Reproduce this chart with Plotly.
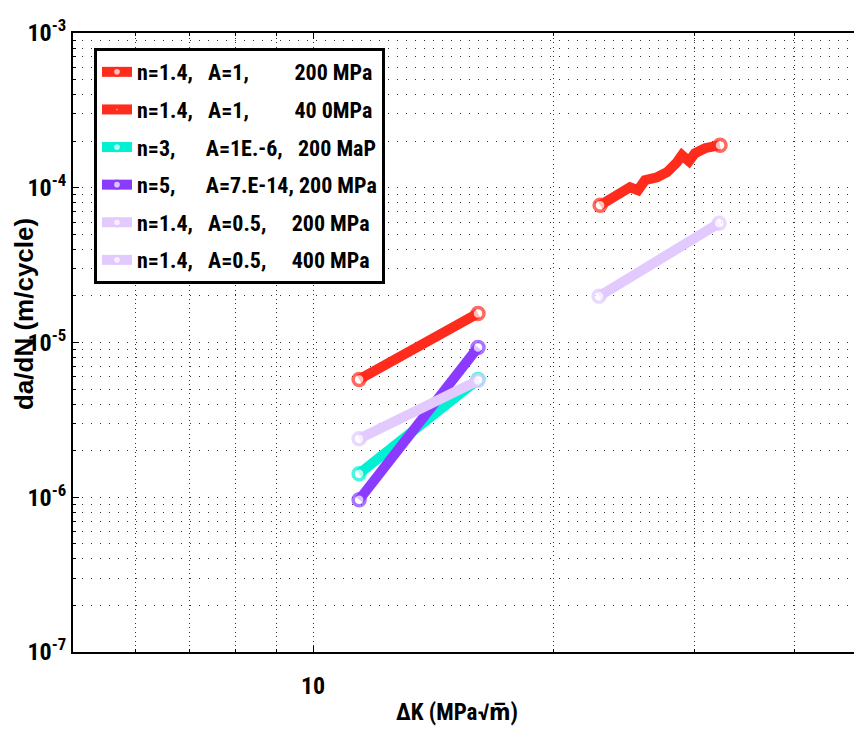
import plotly.graph_objects as go

# ---- data (ΔK in MPa√m, da/dN in m/cycle) ----
dk_200 = [11.42, 13.53, 16.08]
red_200 = [5.77e-6, 9.40e-6, 1.54e-5]
cyan_200 = [1.42e-6, 2.84e-6, 5.77e-6]
purple_200 = [9.64e-7, 2.94e-6, 9.29e-6]
lav_200 = [2.39e-6, 3.67e-6, 5.68e-6]

dk_red_400 = [22.85, 23.51, 24.41, 24.90, 25.48, 26.00, 26.92, 27.70,
              28.51, 28.92, 29.51, 30.02, 30.90, 32.27]
red_400 = [7.71e-5, 8.55e-5, 9.64e-5, 1.007e-4, 9.64e-5, 1.118e-4, 1.169e-4,
           1.260e-4, 1.462e-4, 1.623e-4, 1.484e-4, 1.672e-4, 1.802e-4, 1.884e-4]
dk_lav_400 = [22.78, 27.15, 32.18]
lav_400 = [1.99e-5, 3.50e-5, 5.89e-5]

S = "\u00a0"
names = [
    "n=1.4," + S * 3 + "A=1," + S * 9 + "200 MPa",
    "n=1.4," + S * 3 + "A=1," + S * 9 + "40 0MPa",
    "n=3," + S * 6 + "A=1E.-6," + S * 3 + "200 MaP",
    "n=5," + S * 6 + "A=7.E-14, 200 MPa",
    "n=1.4," + S * 3 + "A=0.5," + S * 5 + "200 MPa",
    "n=1.4," + S * 3 + "A=0.5," + S * 5 + "400 MPa",
]
colors = ["#ff2b1c", "#ff2b1c", "#00f0d4", "#8a3bff", "#e2caff", "#e2caff"]
xs = [dk_200, dk_red_400, dk_200, dk_200, dk_200, dk_lav_400]
ys = [red_200, red_400, cyan_200, purple_200, lav_200, lav_400]

NARROW = ("Liberation Sans Narrow, Roboto Condensed, Open Sans Condensed, "
          "DejaVu Sans Condensed, Liberation Sans, Arial, sans-serif")

fig = go.Figure()
for i, (x, y, nm, c) in enumerate(zip(xs, ys, names, colors)):
    n = len(x)
    sizes = [12] + [0] * (n - 2) + [12]
    lw = [3.5] + [0] * (n - 2) + [3.5]
    fig.add_trace(go.Scatter(
        x=x, y=y, name=nm, mode="lines+markers",
        legendgroup=f"g{i}",
        line=dict(color=c, width=10),
        marker=dict(symbol="circle", size=sizes, color="white",
                    line=dict(color=c, width=lw)),
    ))

y_major = [1e-7, 1e-6, 1e-5, 1e-4, 1e-3]
y_text = ["10<sup>-7</sup>", "10<sup>-6</sup>", "10<sup>-5</sup>",
          "10<sup>-4</sup>", "10<sup>-3</sup>"]
y_minor = [m * 10.0 ** e for e in range(-7, -3) for m in range(2, 10)]
x_major = [10]
x_text = ["10"]
x_minor = [6, 7, 8, 9, 20, 30, 40]

fig.update_layout(
    width=854, height=721,
    margin=dict(l=65, r=0, t=25, b=77),
    paper_bgcolor="white", plot_bgcolor="white",
    showlegend=True,
    legend=dict(
        x=0.0266, y=0.9757, xanchor="left", yanchor="top",
        bgcolor="white", bordercolor="black", borderwidth=3,
        font=dict(family=NARROW, size=22, color="black", weight="bold"),
        tracegroupgap=6, itemwidth=30,
    ),
    annotations=[
        dict(text="<b>da/dN (m/cycle)</b>", xref="paper", yref="paper",
             x=-0.0621, y=0.546, xanchor="center", yanchor="middle",
             textangle=-90, showarrow=False,
             font=dict(family="Liberation Sans, Arial, sans-serif", size=26, color="black")),
        dict(text="<b>ΔK (MPa√m\u0305)</b>", xref="paper", yref="paper",
             x=0.4867, y=-0.0985, xanchor="center", yanchor="middle",
             showarrow=False,
             font=dict(family=NARROW, size=23, color="black")),
    ],
)

fig.update_xaxes(
    type="log", range=[0.7, 1.68625], automargin=False,
    tickmode="array", tickvals=x_major, ticktext=x_text,
    tickfont=dict(family=NARROW, size=24, color="black", weight="bold"),
    ticks="inside", ticklen=6, tickcolor="black",
    showline=True, linecolor="black", linewidth=2, mirror="ticks",
    showgrid=True, gridcolor="#333", gridwidth=1, griddash="1px,3.5px",
    ticklabelstandoff=11,
    minor=dict(tickmode="array", tickvals=x_minor, ticks="inside", ticklen=3,
               tickcolor="black", showgrid=True, gridcolor="#333",
               griddash="1px,3.5px", gridwidth=1),
    zeroline=False,
)
fig.update_yaxes(
    type="log", range=[-7, -3], automargin=False,
    tickmode="array", tickvals=y_major, ticktext=y_text,
    tickfont=dict(family=NARROW, size=24, color="black", weight="bold"),
    ticks="inside", ticklen=6, tickcolor="black",
    showline=True, linecolor="black", linewidth=2, mirror=False,
    showgrid=True, gridcolor="#333", gridwidth=1, griddash="1px,8px",
    minor=dict(tickmode="array", tickvals=y_minor, ticks="inside", ticklen=3,
               tickcolor="black", showgrid=True, gridcolor="#333",
               griddash="1px,8px", gridwidth=1),
    zeroline=False,
)

fig.write_html("out.html")
